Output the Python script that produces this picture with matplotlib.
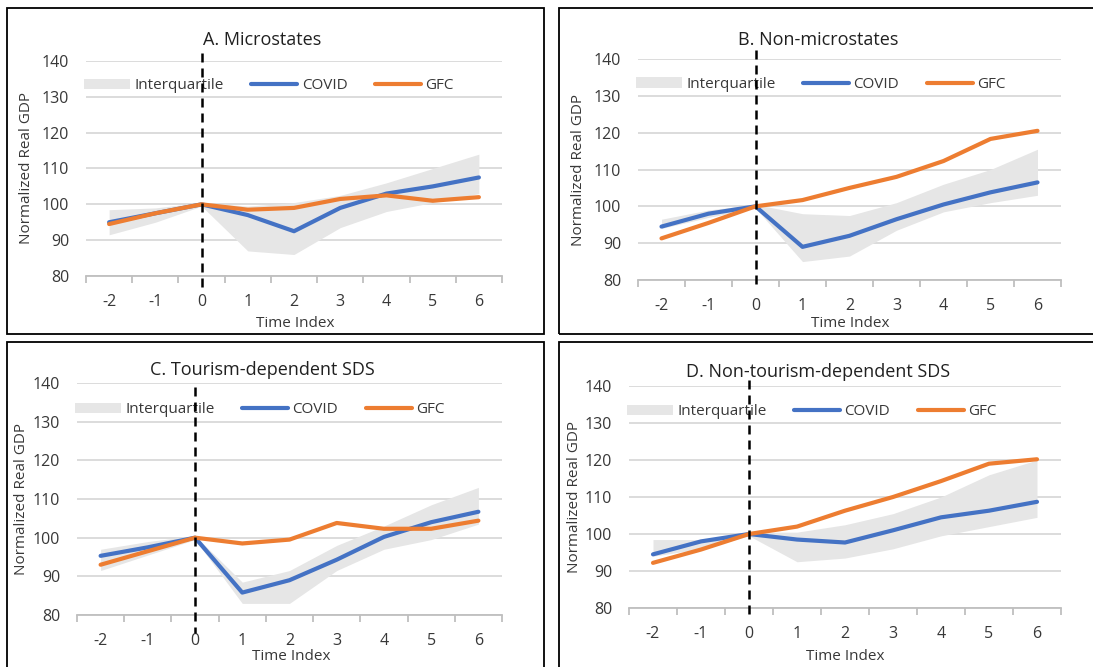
import matplotlib
matplotlib.use("Agg")
import matplotlib.pyplot as plt
from matplotlib.patches import Rectangle

plt.rcParams["font.family"] = ["Open Sans", "DejaVu Sans"]

time_index = [-2, -1, 0, 1, 2, 3, 4, 5, 6]
tick_labels = ["-2", "-1", "0", "1", "2", "3", "4", "5", "6"]

titles = [
    "A. Microstates",
    "B. Non-microstates",
    "C. Tourism-dependent SDS",
    "D. Non-tourism-dependent SDS",
]

covid_a = [95.0, 97.5, 100.0, 97.0, 92.5, 99.0, 103.0, 105.0, 107.5]
gfc_a = [94.5, 97.5, 100.0, 98.5, 99.0, 101.5, 102.5, 101.0, 102.0]
iq_low_a = [91.5, 95.0, 99.5, 87.0, 86.0, 93.5, 98.0, 100.5, 103.0]
iq_high_a = [98.5, 99.0, 100.5, 99.5, 100.5, 102.5, 106.0, 110.0, 114.0]

covid_b = [94.5, 98.0, 100.0, 89.0, 92.0, 96.5, 100.5, 103.8, 106.5]
gfc_b = [91.3, 95.5, 100.0, 101.7, 105.0, 108.0, 112.3, 118.3, 120.5]
iq_low_b = [94.0, 97.0, 99.5, 85.0, 86.5, 93.5, 98.5, 101.0, 103.0]
iq_high_b = [96.5, 99.0, 100.5, 98.0, 97.5, 101.0, 106.0, 110.0, 115.5]

covid_c = [95.3, 97.5, 100.0, 85.8, 89.0, 94.3, 100.2, 104.0, 106.7]
gfc_c = [93.0, 96.5, 100.0, 98.5, 99.5, 103.8, 102.3, 102.3, 104.4]
iq_low_c = [91.5, 95.5, 99.5, 83.0, 83.0, 91.5, 97.0, 99.5, 103.5]
iq_high_c = [97.0, 99.0, 100.5, 88.5, 91.5, 98.0, 103.0, 108.5, 113.0]

covid_d = [94.5, 98.0, 100.0, 98.5, 97.7, 101.0, 104.5, 106.3, 108.7]
gfc_d = [92.2, 95.8, 100.0, 102.0, 106.3, 110.0, 114.3, 119.0, 120.2]
iq_low_d = [94.0, 96.0, 99.5, 92.5, 93.5, 96.0, 99.5, 102.0, 104.5]
iq_high_d = [98.5, 98.5, 100.5, 100.5, 102.5, 105.5, 110.0, 116.0, 120.0]

series = [
    (covid_a, gfc_a, iq_low_a, iq_high_a),
    (covid_b, gfc_b, iq_low_b, iq_high_b),
    (covid_c, gfc_c, iq_low_c, iq_high_c),
    (covid_d, gfc_d, iq_low_d, iq_high_d),
]

W, H = 1093, 667
BLUE = "#4472c4"
ORANGE = "#ed7d31"
BAND = "#e6e6e6"
GRID = "#d9d9d9"
TEXT = "#383838"

# layout in pixels: axes box (left, top, right, bottom), title pos, ylabel x, xlabel pos,
# dashed line extent (data units), panel frame (left, top, right, bottom)
layout = [
    dict(ax=(86, 61, 502, 276), title=(262, 40), ylab=27, xlab=(295, 323),
         dash=(142.2, 75.3), frame=(7, 8, 544, 334)),
    dict(ax=(638, 59, 1061, 280), title=(818, 40), ylab=578, xlab=(850, 323),
         dash=(142.5, 77.3), frame=(559, 8, 1100, 334)),
    dict(ax=(77, 383, 502, 615), title=(262, 370), ylab=22, xlab=(291, 657),
         dash=(139.0, 75.3), frame=(7, 342, 544, 680)),
    dict(ax=(629, 386, 1061, 608), title=(818, 372), ylab=574, xlab=(845, 657),
         dash=(141.5, 76.7), frame=(559, 342, 1100, 680)),
]


def fx(x):
    return x / W


def fy(y):
    return 1 - y / H


fig = plt.figure(figsize=(W / 100, H / 100), dpi=100)

for (covid, gfc, lo, hi), title, lay in zip(series, titles, layout):
    l, t, r, b = lay["ax"]
    ax = fig.add_axes([fx(l), fy(b), (r - l) / W, (b - t) / H])
    band = ax.fill_between(time_index, lo, hi, color=BAND, lw=0, label="Interquartile")
    (lc,) = ax.plot(time_index, covid, color=BLUE, lw=3, solid_capstyle="round",
                    label="COVID", zorder=3)
    (lg,) = ax.plot(time_index, gfc, color=ORANGE, lw=3, solid_capstyle="round",
                    label="GFC", zorder=4)

    ax.set_xlim(-2.5, 6.5)
    ax.set_ylim(80, 140)
    ax.set_yticks(range(80, 141, 10))
    ax.set_xticks(time_index)
    ax.set_xticklabels(tick_labels)
    ax.set_xticks([v + 0.5 for v in [-3] + time_index], minor=True)
    ax.grid(axis="y", color=GRID, lw=1.3)
    ax.set_axisbelow(True)
    for s in ["top", "right", "left"]:
        ax.spines[s].set_visible(False)
    ax.spines["bottom"].set_color("#bfbfbf")
    ax.spines["bottom"].set_linewidth(1.3)
    ax.tick_params(axis="x", which="major", length=0, pad=13, labelsize=11.5,
                   labelcolor=TEXT)
    ax.tick_params(axis="x", which="minor", length=5, width=1.3, color="#bfbfbf",
                   direction="out")
    ax.tick_params(axis="y", length=0, pad=12, labelsize=11.5, labelcolor=TEXT)

    top, bot = lay["dash"]
    ax.plot([0, 0], [top, bot], color="black", lw=1.8, ls=(0, (3.6, 2.4)),
            clip_on=False, zorder=6)

    ax.legend(handles=[band, lc, lg], loc="center left",
              bbox_to_anchor=(-0.005, 0.884), ncol=3, frameon=False,
              borderpad=0, borderaxespad=0, handlelength=3.0, handleheight=0.7,
              handletextpad=0.3, columnspacing=1.8, fontsize=11,
              labelcolor=TEXT)

    fig.text(fx(lay["title"][0]), fy(lay["title"][1]), title, ha="center",
             va="center", fontsize=13, color="#202020")
    fig.text(fx(lay["ylab"]), (fy(t) + fy(b)) / 2, "Normalized Real GDP",
             rotation=90, ha="center", va="center", fontsize=11, color=TEXT)
    fig.text(fx(lay["xlab"][0]), fy(lay["xlab"][1]), "Time Index", ha="center",
             va="center", fontsize=11, color=TEXT)

    fl, ft, fr, fb = lay["frame"]
    fig.add_artist(Rectangle((fx(fl), fy(fb)), (fr - fl) / W, (fb - ft) / H,
                             transform=fig.transFigure, fill=False,
                             edgecolor="black", lw=1.3, clip_on=False))

fig.savefig("out.png", dpi=100, facecolor="white")
